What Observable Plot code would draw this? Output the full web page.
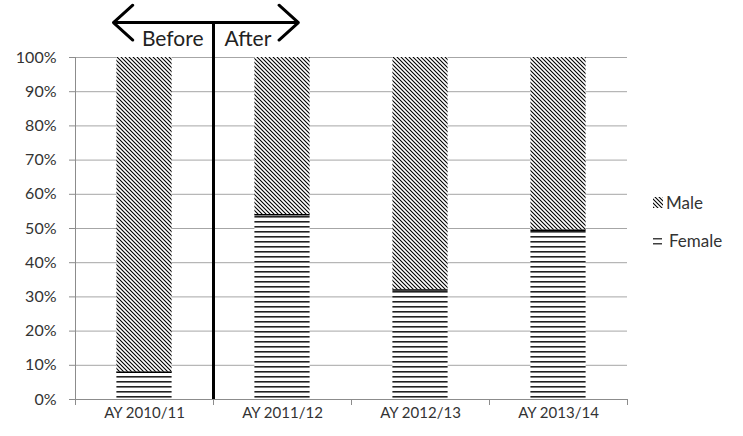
<!DOCTYPE html>
<html><head><meta charset="utf-8">
<script src="https://cdn.jsdelivr.net/npm/d3@7"></script>
<script src="https://cdn.jsdelivr.net/npm/@observablehq/plot@0.6"></script>
<style>body{margin:0;background:#fff;} #chart{width:743px;height:436px;}</style>
</head><body><div id="chart"></div>
<script>
// ---- data ----
const categories = ["AY 2010/11", "AY 2011/12", "AY 2012/13", "AY 2013/14"];
const femaleShare = [0.08, 0.54, 0.32, 0.495];
const maleShare   = [0.92, 0.46, 0.68, 0.505];
const seriesNames = ["Male", "Female"];
const yTicks = [0, 0.1, 0.2, 0.3, 0.4, 0.5, 0.6, 0.7, 0.8, 0.9, 1.0];
// annotation (in category units / share units)
const dividerAt = 1;
const arrowEnds = [0.275, 1.615];
const arrowLevel = 1.102;
const annotationLabels = ["Before", "After"];

// ---- build rows (stacked: Female bottom, Male top) ----
const rows = [];
categories.forEach((c, i) => {
  rows.push({cat: c, pos: i, series: "Female", y1: 0, y2: femaleShare[i]});
  rows.push({cat: c, pos: i, series: "Male", y1: femaleShare[i], y2: femaleShare[i] + maleShare[i]});
});
const femaleRows = rows.filter(d => d.series === "Female");
const boundaries = d3.range(categories.length + 1);
const centers = categories.map((c, i) => i + 0.5);
const arrows = arrowEnds.map(e => ({x1: dividerAt, x2: e}));

const grey = "#8c8c8c";
const chart = Plot.plot({
  width: 743, height: 436,
  marginLeft: 75, marginRight: 116, marginTop: 57, marginBottom: 37,
  style: {fontFamily: "Lato, sans-serif", fontSize: "16px", color: "#404040", background: "#fff"},
  x: {type: "linear", domain: [0, categories.length], axis: null},
  y: {domain: [0, 1], axis: null},
  color: {type: "ordinal", domain: ["Female", "Male"], range: ["url(#pFemale)", "url(#pMale)"]},
  marks: [
    Plot.gridY(yTicks, {stroke: "#a6a6a6", strokeOpacity: 1}),
    Plot.rectY(rows, {x1: d => d.pos + 0.3, x2: d => d.pos + 0.7, y1: "y1", y2: "y2", fill: "series"}),
    Plot.ruleY(femaleRows, {y: "y2", x1: d => d.pos + 0.3, x2: d => d.pos + 0.7, stroke: "#000", strokeWidth: 1.5}),
    Plot.ruleX([0], {stroke: grey}),
    Plot.ruleY([0], {stroke: grey}),
    Plot.axisY(yTicks, {tickFormat: d3.format(".0%"), tickSize: 6, tickPadding: 13, stroke: grey, fill: "#333"}),
    Plot.axisX(boundaries, {tickFormat: () => "", tickSize: 6, stroke: grey}),
    Plot.axisX(centers, {tickSize: 0, tickPadding: 8, fontSize: 15, tickFormat: d => categories[Math.floor(d)], fill: "#333"}),
    Plot.ruleX([dividerAt], {y1: 0, y2: arrowLevel, stroke: "#000", strokeWidth: 3}),
    Plot.arrow(arrows, {x1: "x1", x2: "x2", y1: arrowLevel, y2: arrowLevel, stroke: "#000", strokeWidth: 3, headLength: 13, headAngle: 84}),
    Plot.text([annotationLabels[0]], {x: dividerAt, y: 1.052, text: d => d, textAnchor: "end", dx: -10, fontSize: 21, fill: "#222"}),
    Plot.text([annotationLabels[1]], {x: dividerAt, y: 1.052, text: d => d, textAnchor: "start", dx: 11, fontSize: 21, fill: "#222"})
  ]
});

const svg = d3.select(chart);
const defs = svg.insert("defs", ":first-child");
const pm = defs.append("pattern").attr("id", "pMale").attr("patternUnits", "userSpaceOnUse").attr("width", 4).attr("height", 4);
pm.append("rect").attr("width", 4).attr("height", 4).attr("fill", "#fff");
pm.append("path").attr("d", "M-1,-1L5,5M-1,3L1,5M3,-1L5,1").attr("stroke", "#000").attr("stroke-width", 1.1);
const pf = defs.append("pattern").attr("id", "pFemale").attr("patternUnits", "userSpaceOnUse").attr("width", 5).attr("height", 5);
pf.append("rect").attr("width", 5).attr("height", 5).attr("fill", "#fff");
pf.append("rect").attr("y", 1).attr("width", 5).attr("height", 1.6).attr("fill", "#222");

// legend
const leg = svg.append("g").attr("font-family", "Lato, sans-serif").attr("font-size", 17).attr("fill", "#333").attr("text-anchor", "start");
const legendY = {Male: 203, Female: 241};
seriesNames.forEach(s => {
  const g = leg.append("g").attr("transform", `translate(653,${legendY[s]})`);
  if (s === "Male") {
    g.append("rect").attr("x", 0).attr("y", -6).attr("width", 10).attr("height", 11).attr("fill", "url(#pMale)");
    g.append("text").attr("x", 13).attr("dy", "0.35em").text(s);
  } else {
    g.append("rect").attr("x", 0).attr("y", -3).attr("width", 9).attr("height", 1.5).attr("fill", "#404040");
    g.append("rect").attr("x", 0).attr("y", 2).attr("width", 9).attr("height", 1.5).attr("fill", "#404040");
    g.append("text").attr("x", 16).attr("dy", "0.35em").text(s);
  }
});

document.getElementById("chart").appendChild(chart);
</script>
</body></html>
